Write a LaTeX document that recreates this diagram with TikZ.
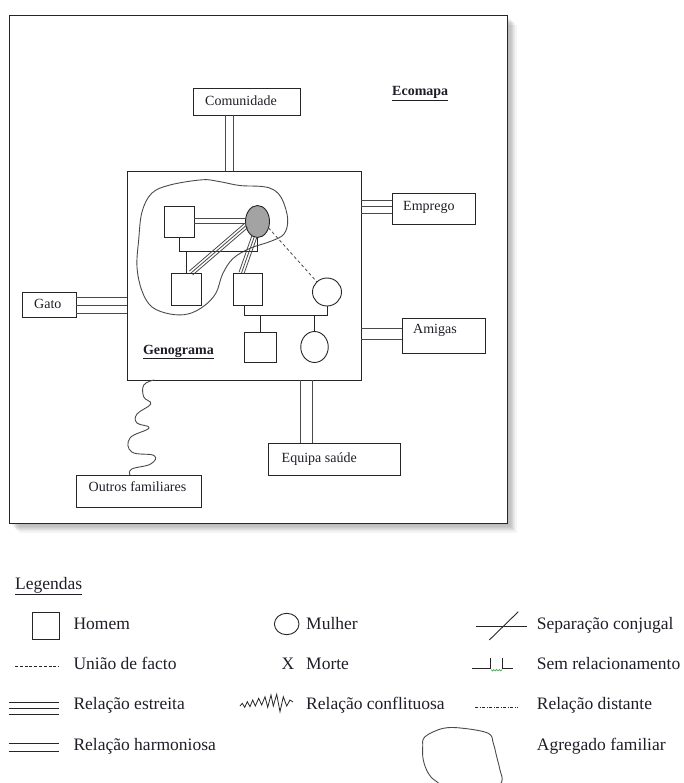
\documentclass[tikz,border=0pt]{standalone}
\usepackage{fontspec}
\setmainfont{Liberation Serif}
\usetikzlibrary{calc,shapes.geometric}
\definecolor{lineGray}{HTML}{4A4A4A}
\definecolor{fillGray}{HTML}{A3A3A3}
\definecolor{tickGreen}{HTML}{3C9A3C}
\definecolor{inkDark}{HTML}{1E1E28}
\begin{document}
\begin{tikzpicture}[x=1pt,y=-1pt,
  ebox/.style={draw=black!85,line width=0.9pt,fill=white,inner sep=0pt,outer sep=0pt,anchor=north west},
  etext/.style={font=\fontsize{14}{16}\selectfont,text=inkDark,inner sep=0pt,anchor=base west},
  person/.style={draw=black!85,line width=0.9pt,fill=white,inner sep=0pt,outer sep=0pt},
  link/.style={draw=lineGray,line width=0.8pt},
  wave/.style={draw=lineGray,line width=0.9pt},
  legtext/.style={font=\fontsize{17.5}{20}\selectfont,text=inkDark,inner sep=0pt,anchor=base west},
  legline/.style={draw=black!85,line width=0.9pt}]
\useasboundingbox (0,0) rectangle (683,783);

% soft drop shadow behind the ecomap frame
\foreach \k in {1,...,8}
  \fill[black,opacity=0.045] (9+\k*1.2,15+\k*1.2) rectangle (507+\k*1.2,523+\k*1.2);
\node[ebox,minimum width=498,minimum height=508] (frame) at (9,15) {};

% ---------------- ecomap boxes ----------------
\node[ebox,minimum width=107,minimum height=27] (com) at (193,88) {};
\node[etext] (comT) at (205,105.6) {Comunidade};
\node[etext,font=\fontsize{14}{16}\selectfont\bfseries] (ecoT) at (392,96) {\underline{Ecomapa}};

\node[ebox,minimum width=234,minimum height=209] (geno) at (127,171) {};
\node[ebox,minimum width=83,minimum height=31] (emp) at (392,193) {};
\node[etext] (empT) at (403,211) {Emprego};
\node[ebox,minimum width=54,minimum height=25] (gato) at (22,292) {};
\node[etext] (gatoT) at (34,308.5) {Gato};
\node[ebox,minimum width=83,minimum height=35] (amig) at (402,318) {};
\node[etext] (amigT) at (413,333.5) {Amigas};
\node[ebox,minimum width=132,minimum height=32] (equipa) at (268,443) {};
\node[etext] (equipaT) at (281.5,462) {Equipa saúde};
\node[ebox,minimum width=125,minimum height=32] (outros) at (76,475) {};
\node[etext] (outrosT) at (88.5,491.5) {Outros familiares};

% ---------------- ecomap connectors ----------------
\foreach \dx in {32,40} {
  \coordinate (t) at ($(com.south west)+(\dx,0)$);
  \draw[link] (t) -- (t |- geno.north);
}
\foreach \dy in {7,13.5,20} {
  \coordinate (t) at ($(emp.north west)+(0,\dy)$);
  \draw[link] (t) -- (t -| geno.east);
}
\foreach \dy in {5,13,21} {
  \coordinate (t) at ($(gato.north east)+(0,\dy)$);
  \draw[link] (t) -- (t -| geno.west);
}
\foreach \dy in {10.3,21} {
  \coordinate (t) at ($(amig.north west)+(0,\dy)$);
  \draw[link] (t) -- (t -| geno.east);
}
\foreach \dx in {32,44.7} {
  \coordinate (t) at ($(equipa.north west)+(\dx,0)$);
  \draw[link] (t) -- (t |- geno.south);
}
% conflictual tie to the other relatives
\coordinate (w0) at ($(geno.south west)+(27,0)$);
\coordinate (w9) at ($(outros.north west)+(54,0)$);
\draw[wave] plot[smooth,tension=0.7] coordinates {(w0) (143.8,385) (143.8,397) (150.7,404)
  (137,414) (137,423) (149,428) (130,438) (131.8,452) (154,455.5) (150.7,464) (131.8,469) (w9)};

% ---------------- genogram ----------------
% household outline
\draw[wave] plot[smooth cycle,tension=0.6] coordinates {(202,179.8) (219,181.5) (239.7,185.5)
  (262,186.5) (274,190) (282.5,200) (287.7,219.2) (284,234) (270.5,241.4) (250,248.3)
  (232.9,258.6) (222.6,274) (216,293) (204,306) (188,314) (170,314) (152,307) (142,291)
  (137,267) (138.7,239.7) (142,212) (151.7,193.3) (170,185)};

\node[person,minimum width=30,minimum height=31] (m1) at (179,221.5) {};
\node[person,ellipse,fill=fillGray,minimum width=24,minimum height=32] (w1) at (257.5,221.5) {};
\node[person,minimum width=30,minimum height=32] (c1) at (186,289) {};
\node[person,minimum width=29,minimum height=32] (c2) at (247.5,289) {};
\node[person,ellipse,minimum width=29,minimum height=28] (w2) at (327,292) {};
\node[person,minimum width=32,minimum height=30] (g1) at (260,347) {};
\node[person,ellipse,minimum width=27.5,minimum height=31] (g2) at (314.5,347) {};
\node[etext,font=\fontsize{14}{16}\selectfont\bfseries] (genoT) at (142.8,354) {\underline{Genograma}};

% close tie between the couple
\foreach \dy in {-3,1.5} {
  \coordinate (t) at ($(m1.east)+(0,\dy)$);
  \draw[link] (t) -- (t -| w1.west);
}
% couple and their children
\coordinate (mar) at ($(m1.south)+(0,14.7)$);
\draw[person,fill=none] (m1.south) -- (mar) -| (w1.south);
\draw[person,fill=none] (c1.north) -- (c1.north |- mar);
% close ties mother -> sons
\coordinate (w1a) at (w1.200);
\coordinate (c1t) at ($(c1.north)+(5,0)$);
\coordinate (w1b) at (w1.258);
\coordinate (c2t) at ($(c2.north)+(-6,0)$);
\foreach \o in {-2.6,0,2.6} {
  \draw[link] ($(w1a)!\o pt!90:(c1t)$) -- ($(c1t)!\o pt!-90:(w1a)$);
  \draw[link] ($(w1b)!\o pt!90:(c2t)$) -- ($(c2t)!\o pt!-90:(w1b)$);
}
% distant relation
\draw[link,dash pattern=on 3pt off 2.5pt] (w1.330) -- (w2.135);
% second couple and their children
\coordinate (mar2) at ($(c2.south)+(-3,10.4)$);
\draw[person,fill=none] ($(c2.south)+(-3,0)$) -- (mar2) -| (w2.south);
\draw[person,fill=none] (g1.north) -- (g1.north |- mar2);
\draw[person,fill=none] (g2.north) -- (g2.north |- mar2);

% ---------------- legend ----------------
\node[legtext] (legT) at (15,589) {\underline{Legendas}};

\node[person,minimum width=27,minimum height=26.6] (lsq) at (45.8,626) {};
\node[legtext] (lsqT) at (73.3,629.3) {Homem};
\draw[legline,dash pattern=on 3pt off 1.8pt] (15,666.7) -- (59,666.7);
\node[legtext] (luniT) at (73.3,669.3) {União de facto};
\foreach \yy in {702,708,714.5} \draw[legline] (8.5,\yy) -- (59.3,\yy);
\node[legtext] (lestT) at (73.3,709.3) {Relação estreita};
\foreach \yy in {743.5,751.5} \draw[legline] (8.5,\yy) -- (59.3,\yy);
\node[legtext] (lharT) at (73.3,750) {Relação harmoniosa};

\node[person,ellipse,minimum width=24.6,minimum height=21.4] (lcirc) at (286.7,624) {};
\node[legtext] (lcircT) at (306,629.3) {Mulher};
\node[legtext] (lx) at (281.5,669) {X};
\node[legtext] (lxT) at (306,669) {Morte};
\draw[legline,line width=0.8pt] plot coordinates {(240,706) (242.3,703.3) (244.7,707.3) (247.3,701.7)
  (250,706.7) (252.7,700) (255.3,706) (258.7,698.3) (261.7,705) (265,696.7) (267.7,707.3)
  (271,695) (273.3,706) (276.7,694.3) (280,711.7) (283.3,696.7) (286.7,706) (290,700) (293,702)};
\node[legtext] (lconT) at (306,709) {Relação conflituosa};

\draw[legline] (475.7,626.7) -- (526.7,626.7);
\draw[legline] (489.3,640) -- (518.3,611.7);
\node[legtext] (lsepT) at (536.7,629.3) {Separação conjugal};
\draw[legline] (471.7,668.3) -- (490.7,668.3) -- (490.7,658.3);
\draw[legline] (502,658.3) -- (502,668.3) -- (513.3,668.3);
\draw[tickGreen,line width=0.6pt] (491,669.5) -- (492.4,671) -- (493.8,669.5) -- (495.2,671)
  -- (496.6,669.5) -- (498,671) -- (499.4,669.5) -- (500.8,671) -- (502,669.5);
\node[legtext] (lsemT) at (536.7,669) {Sem relacionamento};
\draw[legline,line width=0.7pt,dash pattern=on 3pt off 1.5pt on 1pt off 1.5pt] (475,707.5) -- (518.3,707.5);
\node[legtext] (ldisT) at (536.7,709) {Relação distante};
\draw[wave] plot[smooth cycle,tension=0.6] coordinates {(425,736.7) (443.3,728.3) (463.3,728.3)
  (488.3,733.3) (493.3,743.3) (496.7,756.7) (500,770) (501.7,781.7) (490,792) (460,796)
  (436.7,781.7) (428.3,773.3) (423.3,760) (422.7,746.7)};
\node[legtext] (lagrT) at (536.7,750) {Agregado familiar};
\end{tikzpicture}
\end{document}
